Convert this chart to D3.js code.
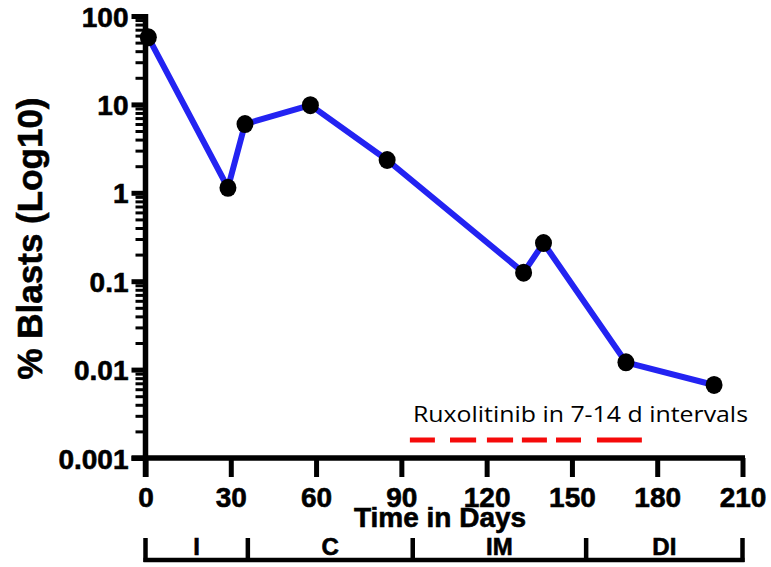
<!DOCTYPE html>
<html>
<head>
<meta charset="utf-8">
<script src="https://cdn.jsdelivr.net/npm/d3@7"></script>
<style>
  html, body { margin: 0; padding: 0; background: #fff; }
  svg { display: block; }
  .ax path, .ax line { stroke: #000; }
  .ax text, .bold { font-family: "Liberation Sans", Arial, sans-serif; font-weight: bold; fill: #000; stroke: #000; stroke-width: 0.6px; }
</style>
</head>
<body>
<div id="chart"></div>
<script>
// measurements (day, % blasts)
const days = [1, 29, 35, 58, 85, 133, 140, 169, 200];
const blasts = [57.4, 1.14, 6.0, 9.8, 2.35, 0.125, 0.27, 0.0121, 0.0067];

const xTicks = [0, 30, 60, 90, 120, 150, 180, 210];
const yTicks = [0.001, 0.01, 0.1, 1, 10, 100];
const yTickLabels = ["0.001", "0.01", "0.1", "1", "10", "100"];

// treatment phases (day boundaries)
const phaseBounds = [0, 36, 94, 155, 210];
const phaseLabels = ["I", "C", "IM", "DI"];

// ruxolitinib dosing windows (start day, end day)
const ruxStart = [93, 107.1, 120.1, 132.4, 144.4, 158.8];
const ruxEnd = [101.8, 116.3, 129.3, 141.2, 153.2, 174.6];

(() => {
  const width = 771, height = 567;
  const svg = d3.select("#chart").append("svg")
    .attr("width", width)
    .attr("height", height);

  const x = d3.scaleLinear().domain([0, 210]).range([145.5, 742.5]);
  const y = d3.scaleLog().domain([0.001, 100]).range([458, 16]);

  // minor log ticks 2..9 per decade
  const minor = [];
  for (let e = -3; e < 2; e++) {
    for (let m = 2; m <= 9; m++) minor.push(m * Math.pow(10, e));
  }

  // y minor ticks
  svg.append("g")
    .attr("class", "ax")
    .attr("transform", `translate(${x(0)},0)`)
    .call(d3.axisLeft(y).tickValues(minor).tickSize(10).tickSizeOuter(0).tickFormat(""))
    .call(s => s.select(".domain").remove())
    .call(s => s.selectAll("line").attr("stroke-width", 3));

  // y axis
  svg.append("g")
    .attr("class", "ax")
    .attr("transform", `translate(${x(0)},0)`)
    .call(d3.axisLeft(y).tickValues(yTicks).tickSize(14).tickSizeOuter(0).tickPadding(3)
      .tickFormat((d, i) => yTickLabels[i]))
    .call(s => s.select(".domain").attr("stroke-width", 5.5).attr("d", `M0,${y(100) - 2}V${y(0.001) + 19}`))
    .call(s => s.selectAll("line").attr("stroke-width", 5))
    .call(s => s.selectAll("text").style("font-size", "28px").attr("dy", "0.36em"));

  // x axis
  svg.append("g")
    .attr("class", "ax")
    .attr("transform", `translate(0,${y(0.001)})`)
    .call(d3.axisBottom(x).tickValues(xTicks).tickSize(19).tickSizeOuter(0).tickPadding(10))
    .call(s => s.select(".domain").attr("stroke-width", 5.5).attr("d", `M${x(0) - 14},0H${x(210) + 2.5}`))
    .call(s => s.selectAll("line").attr("stroke-width", 5))
    .call(s => s.selectAll("text").style("font-size", "28px"));

  // axis titles
  svg.append("text")
    .attr("class", "bold")
    .attr("transform", "translate(42,238.5) rotate(-90)")
    .attr("text-anchor", "middle")
    .style("font-size", "35px")
    .text("% Blasts (Log10)");

  svg.append("text")
    .attr("class", "bold")
    .attr("x", 440)
    .attr("y", 527)
    .attr("text-anchor", "middle")
    .style("font-size", "28px")
    .text("Time in Days");

  // phase bracket
  const by = 560, bTop = 538;
  const br = svg.append("g");
  br.append("line")
    .attr("x1", x(phaseBounds[0]) - 2).attr("x2", x(phaseBounds[phaseBounds.length - 1]) + 2)
    .attr("y1", by).attr("y2", by)
    .attr("stroke", "#000").attr("stroke-width", 4.5);
  br.selectAll("line.pt")
    .data(phaseBounds)
    .enter().append("line")
    .attr("class", "pt")
    .attr("x1", d => x(d)).attr("x2", d => x(d))
    .attr("y1", bTop).attr("y2", by + 2)
    .attr("stroke", "#000").attr("stroke-width", 4.5);
  br.selectAll("text")
    .data(phaseLabels)
    .enter().append("text")
    .attr("class", "bold")
    .attr("x", (d, i) => x((phaseBounds[i] + phaseBounds[i + 1]) / 2))
    .attr("y", 555)
    .attr("text-anchor", "middle")
    .style("font-size", "24px")
    .text(d => d);

  // ruxolitinib annotation
  svg.append("text")
    .attr("x", 413)
    .attr("y", 421.5)
    .attr("textLength", 335)
    .attr("lengthAdjust", "spacingAndGlyphs")
    .style("font-family", "'Open Sans', 'Liberation Sans', sans-serif")
    .style("font-size", "22px")
    .attr("fill", "#000")
    .text("Ruxolitinib in 7-14 d intervals");

  svg.append("g").selectAll("line")
    .data(ruxStart)
    .enter().append("line")
    .attr("x1", d => x(d))
    .attr("x2", (d, i) => x(ruxEnd[i]))
    .attr("y1", 440).attr("y2", 440)
    .attr("stroke", "#f50a0a")
    .attr("stroke-width", 5);

  // series
  const pts = days.map((d, i) => ({ day: d, v: blasts[i] }));
  svg.append("path")
    .datum(pts)
    .attr("fill", "none")
    .attr("stroke", "#2323f2")
    .attr("stroke-width", 6)
    .attr("stroke-linejoin", "round")
    .attr("d", d3.line().x(d => x(d.day)).y(d => y(d.v)));

  svg.append("g").selectAll("ellipse")
    .data(pts)
    .enter().append("ellipse")
    .attr("cx", d => x(d.day))
    .attr("cy", d => y(d.v))
    .attr("rx", 8.5)
    .attr("ry", 9)
    .attr("fill", "#000");
})();
</script>
</body>
</html>
